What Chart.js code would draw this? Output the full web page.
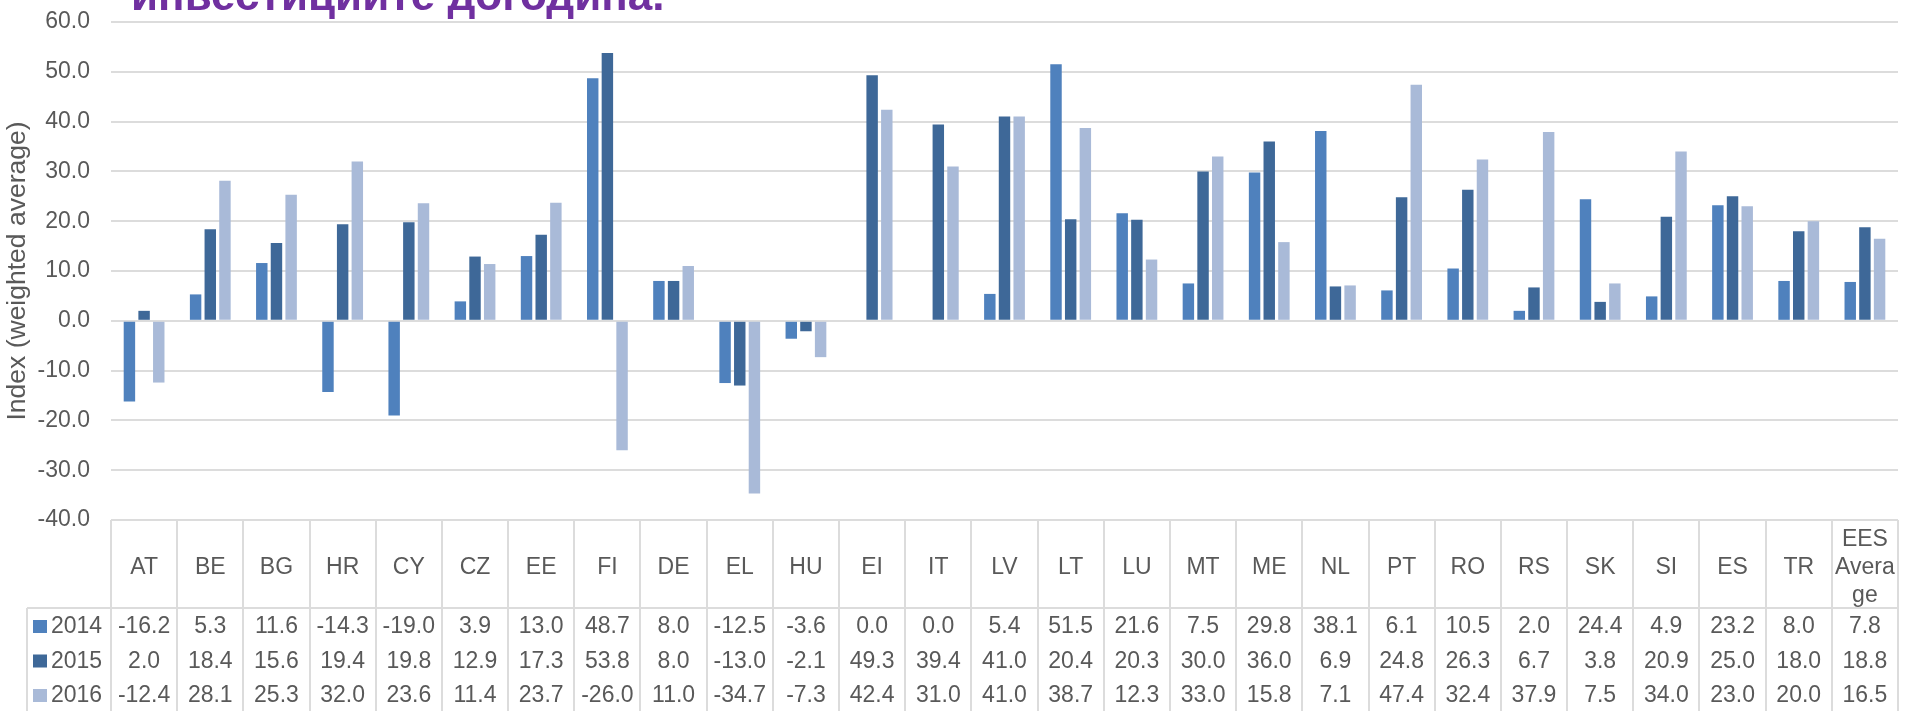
<!DOCTYPE html>
<html><head><meta charset="utf-8">
<script src="https://cdn.jsdelivr.net/npm/chart.js@4.4.1/dist/chart.umd.min.js"></script>
<style>html,body{margin:0;padding:0;background:#fff;overflow:hidden}#wrap{position:relative;width:1905px;height:711px}</style>
</head><body><div id="wrap"><canvas id="c"></canvas></div>
<script>
const titleText = 'инвестициите догодина.';
const yAxisTitle = 'Index (weighted average)';
const categories = ['AT','BE','BG','HR','CY','CZ','EE','FI','DE','EL','HU','EI','IT','LV','LT','LU','MT','ME','NL','PT','RO','RS','SK','SI','ES','TR','EES Average'];
const categoryLines = {'EES Average': ['EES','Avera','ge']};
const seriesNames = ['2014','2015','2016'];
const values2014 = [-16.2,5.3,11.6,-14.3,-19.0,3.9,13.0,48.7,8.0,-12.5,-3.6,0.0,0.0,5.4,51.5,21.6,7.5,29.8,38.1,6.1,10.5,2.0,24.4,4.9,23.2,8.0,7.8];
const values2015 = [2.0,18.4,15.6,19.4,19.8,12.9,17.3,53.8,8.0,-13.0,-2.1,49.3,39.4,41.0,20.4,20.3,30.0,36.0,6.9,24.8,26.3,6.7,3.8,20.9,25.0,18.0,18.8];
const values2016 = [-12.4,28.1,25.3,32.0,23.6,11.4,23.7,-26.0,11.0,-34.7,-7.3,42.4,31.0,41.0,38.7,12.3,33.0,15.8,7.1,47.4,32.4,37.9,7.5,34.0,23.0,20.0,16.5];
const yMin = -40, yMax = 60, yStep = 10;

const colors = ['#4F81BD','#3E6898','#A9BAD8'];
const gridColor = '#dcdcdc';
const textColor = '#595959';
const FONT = '"Liberation Sans", Arial, sans-serif';

const titlePlugin = {
  id: 'cutTitle',
  afterDraw(chart) {
    const ctx = chart.ctx;
    ctx.save();
    ctx.font = 'bold 44px ' + FONT;
    ctx.fillStyle = '#7030A0';
    ctx.textAlign = 'left';
    ctx.textBaseline = 'alphabetic';
    ctx.fillText(titleText, 131, 10);
    ctx.restore();
  }
};

const tablePlugin = {
  id: 'dataTable',
  afterDraw(chart) {
    const {ctx, chartArea, scales} = chart;
    const xs = scales.x;
    const n = categories.length;
    const colW = (chartArea.right - chartArea.left) / n;
    const tableTop = chartArea.bottom;
    const headBottom = xs.bottom;
    const rowH = 34.5;
    const legendLeft = 27;
    const H = chart.height;
    ctx.save();
    ctx.strokeStyle = gridColor;
    ctx.lineWidth = 2;
    ctx.beginPath();
    for (let i = 0; i <= n; i++) {
      const px = Math.round(chartArea.left + i * colW);
      ctx.moveTo(px, tableTop); ctx.lineTo(px, H);
    }
    ctx.moveTo(legendLeft, headBottom); ctx.lineTo(chartArea.right, headBottom);
    ctx.moveTo(legendLeft, headBottom); ctx.lineTo(legendLeft, H);
    ctx.stroke();
    ctx.font = '23px ' + FONT;
    ctx.textBaseline = 'middle';
    chart.data.datasets.forEach((ds, r) => {
      const yc = headBottom + 19 + r * rowH;
      ctx.fillStyle = ds.backgroundColor;
      ctx.fillRect(33, yc - 7, 14, 13);
      ctx.fillStyle = textColor;
      ctx.textAlign = 'left';
      ctx.fillText(ds.label, 51, yc);
      ctx.textAlign = 'center';
      ds.data.forEach((v, i) => {
        ctx.fillText(v.toFixed(1), xs.getPixelForValue(i), yc);
      });
    });
    ctx.restore();
  }
};

new Chart(document.getElementById('c'), {
  type: 'bar',
  data: {
    labels: categories,
    datasets: [
      {label: seriesNames[0], data: values2014, backgroundColor: colors[0]},
      {label: seriesNames[1], data: values2015, backgroundColor: colors[1]},
      {label: seriesNames[2], data: values2016, backgroundColor: colors[2]}
    ]
  },
  options: {
    responsive: true,
    maintainAspectRatio: false,
    animation: false,
    layout: {padding: {left: 0, right: 7, top: 22, bottom: 103}},
    datasets: {bar: {categoryPercentage: 0.665, barPercentage: 0.78}},
    plugins: {legend: {display: false}, tooltip: {enabled: false}, title: {display: false}},
    scales: {
      x: {
        grid: {display: false},
        border: {display: false},
        ticks: {
          autoSkip: false, maxRotation: 0, minRotation: 0,
          crossAlign: 'center', padding: 12,
          color: textColor, font: {family: FONT, size: 23},
          callback: function(v, i) { const l = categories[i]; return categoryLines[l] || l; }
        },
        afterFit: (s) => { s.height = 88; s.paddingLeft = 0; s.paddingRight = 0; }
      },
      y: {
        min: yMin, max: yMax,
        grid: {color: gridColor, lineWidth: 2, drawTicks: false},
        border: {display: false},
        ticks: {
          stepSize: yStep, padding: 21,
          color: textColor, font: {family: FONT, size: 23},
          callback: (v) => Number(v).toFixed(1)
        },
        title: {display: true, text: yAxisTitle, color: textColor, font: {family: FONT, size: 26.5}, padding: {top: 2, bottom: 0}},
        afterFit: (s) => { s.width = 111; s.paddingTop = 0; s.paddingBottom = 0; }
      }
    }
  },
  plugins: [titlePlugin, tablePlugin]
});
</script></body></html>
